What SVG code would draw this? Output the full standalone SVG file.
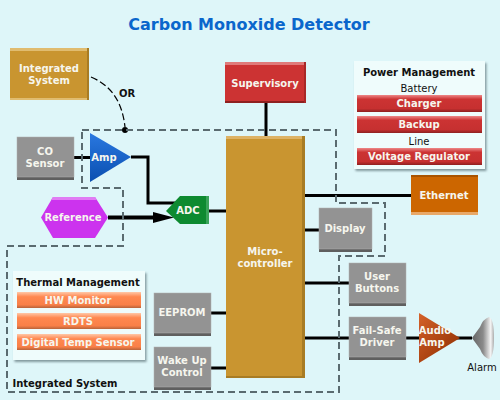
<svg xmlns="http://www.w3.org/2000/svg" width="500" height="400" viewBox="0 0 500 400">
<style>
text{font-family:"DejaVu Sans",Verdana,sans-serif;text-anchor:middle}
.w{font-size:10px;font-weight:bold;fill:#f6f6ee}
.b{font-size:10px;font-weight:bold;fill:#111}
.n{font-size:10px;fill:#111}
.c{fill:none;stroke:#000;stroke-width:3}
.d{fill:none;stroke:#5a6b70;stroke-width:2;stroke-dasharray:7 4}
.gray{fill:#939393;stroke:#b0b0b0;stroke-width:.5}
.grayb{fill:#5f5f5f}
.panel{fill:#effcfc;filter:url(#s)}
</style>
<defs>
<filter id="s" x="-10%" y="-10%" width="125%" height="125%"><feDropShadow dx="1.5" dy="2" stdDeviation="1" flood-color="#6c8288" flood-opacity=".8"/></filter>
<linearGradient id="r" x1="0" y1="0" x2="0" y2="1"><stop offset="0" stop-color="#e88"/><stop offset=".25" stop-color="#cc3333"/><stop offset=".8" stop-color="#c63030"/><stop offset="1" stop-color="#8e2020"/></linearGradient>
<linearGradient id="o" x1="0" y1="0" x2="0" y2="1"><stop offset="0" stop-color="#ffc8a8"/><stop offset=".3" stop-color="#ff8850"/><stop offset=".8" stop-color="#f98048"/><stop offset="1" stop-color="#b8633a"/></linearGradient>
<linearGradient id="au" x1="0" y1="0" x2="1" y2="1"><stop offset="0" stop-color="#d5622a"/><stop offset=".6" stop-color="#a8400f"/><stop offset="1" stop-color="#8c3208"/></linearGradient>
<linearGradient id="bl" x1="0" y1="0" x2="0" y2="1"><stop offset="0" stop-color="#2a78e0"/><stop offset="1" stop-color="#0a4fb0"/></linearGradient>
<linearGradient id="sp" x1="0" y1="0" x2="1" y2="0"><stop offset="0" stop-color="#666"/><stop offset=".5" stop-color="#8a8a8a"/><stop offset=".85" stop-color="#f4f4f4"/><stop offset="1" stop-color="#aaa"/></linearGradient>
</defs>
<rect width="500" height="400" fill="#def6f9"/>
<text x="249" y="30" style="font-size:16px;font-weight:bold;fill:#0a66cc">Carbon Monoxide Detector</text>

<g id="connectors">
<path class="c" d="M74 157.500H90M131 157H148V203H176M209 211H226M266 103V136M305 195.500H411M305 230H319M305 283H349M305 338H349M406 338H472M211 313H226M211 368H226"/>
<path d="M108 217.500H155" fill="none" stroke="#000" stroke-width="4"/>
<path d="M153 212L174 217.500L153 223Z" fill="#000"/>
<path d="M91 77C110 85 122 100 125 127" fill="none" stroke="#000" stroke-width="1.200" stroke-dasharray="7 3"/>
<circle cx="125" cy="130" r="3" fill="#000"/>
<path class="d" d="M82 130H336V203H385V256H339V392H7V246H123V188H82Z"/>
</g>
<text class="b" x="127" y="97">OR</text>

<g id="integrated-system"><rect x="10" y="48" width="79" height="52" fill="#c99530"/><rect x="10" y="48" width="79" height="3" fill="#e0bc70"/><rect x="10" y="98" width="79" height="2" fill="#e0bc70"/><rect x="87" y="48" width="2" height="52" fill="#a87c24"/>
<text class="w" x="49" y="72">Integrated</text><text class="w" x="49" y="84">System</text></g>

<g id="co-sensor"><rect x="17" y="137" width="57" height="43" class="grayb"/><rect x="17" y="137" width="57" height="40" class="gray"/>
<text class="w" x="45" y="155">CO</text><text class="w" x="45" y="167">Sensor</text></g>

<g id="amp"><path d="M90 133L131 157L90 182Z" fill="url(#bl)"/><text class="w" x="104" y="161">Amp</text></g>

<g id="adc"><path d="M166 211L180 196H209V224H180Z" fill="#0d8a30"/><path d="M206 196H209V224H206Z" fill="#3aa45a"/><text class="w" x="188" y="214">ADC</text></g>

<g id="reference"><path d="M41 217.500L53 197H95L108 217.500L95 238H53Z" fill="#cc33ee"/><path d="M53 197H95L97 200H51Z" fill="#e07cf4"/><text class="w" x="73" y="221">Reference</text></g>

<g id="supervisory"><rect x="225" y="62" width="81" height="41" fill="#cc3333"/><rect x="225" y="62" width="81" height="3" fill="#e07a7a"/><rect x="225" y="101" width="81" height="2" fill="#8e2020"/><rect x="304" y="62" width="2" height="41" fill="#a82828"/>
<text class="w" x="265" y="87">Supervisory</text></g>

<g id="microcontroller"><rect x="226" y="136" width="79" height="242" fill="#c99530"/><rect x="226" y="136" width="79" height="3" fill="#ddb366"/><rect x="302" y="136" width="3" height="242" fill="#a87c24"/><rect x="226" y="376" width="79" height="2" fill="#a87c24"/>
<text class="w" x="265" y="255">Micro-</text><text class="w" x="265" y="267">controller</text></g>

<g id="power-management"><rect class="panel" x="354" y="61" width="131" height="108"/>
<text class="b" x="419" y="76">Power Management</text><text class="n" x="419" y="92">Battery</text>
<rect x="357" y="95" width="125" height="17" fill="url(#r)"/><text class="w" x="419" y="107">Charger</text>
<rect x="357" y="116" width="125" height="17" fill="url(#r)"/><text class="w" x="419" y="128">Backup</text>
<text class="n" x="419" y="145">Line</text>
<rect x="357" y="148" width="125" height="17" fill="url(#r)"/><text class="w" x="419" y="160">Voltage Regulator</text></g>

<g id="ethernet"><rect x="411" y="175" width="67" height="40" fill="#cc6600"/><rect x="411" y="212" width="67" height="3" fill="#e8a868"/><rect x="411" y="175" width="67" height="2" fill="#a85400"/><text class="w" x="444" y="199">Ethernet</text></g>

<g id="display"><rect x="319" y="208" width="53" height="44" class="grayb"/><rect x="319" y="208" width="53" height="41" class="gray"/><text class="w" x="345" y="232">Display</text></g>
<g id="user-buttons"><rect x="349" y="263" width="57" height="43" class="grayb"/><rect x="349" y="263" width="57" height="40" class="gray"/><text class="w" x="377" y="280">User</text><text class="w" x="377" y="292">Buttons</text></g>
<g id="fail-safe-driver"><rect x="349" y="317" width="57" height="43" class="grayb"/><rect x="349" y="317" width="57" height="40" class="gray"/><text class="w" x="377" y="334">Fail-Safe</text><text class="w" x="377" y="346">Driver</text></g>

<g id="audio-amp"><path d="M419 313L460 338L419 363Z" fill="url(#au)"/><text class="w" x="435" y="334">Audio</text><text class="w" x="432" y="346">Amp</text></g>
<g id="alarm"><path d="M472 338L480 327Q483 319 489 317Q494 319 494 338Q494 357 489 359Q483 357 480 349Z" fill="url(#sp)"/><text class="n" x="482" y="371">Alarm</text></g>

<g id="thermal-management"><rect class="panel" x="13" y="271" width="132" height="89"/>
<text class="b" x="78" y="286">Thermal Management</text>
<rect x="17" y="292" width="124" height="16" fill="url(#o)"/><text class="w" x="78" y="304">HW Monitor</text>
<rect x="17" y="313" width="124" height="16" fill="url(#o)"/><text class="w" x="78" y="325">RDTS</text>
<rect x="17" y="334" width="124" height="16" fill="url(#o)"/><text class="w" x="78" y="346">Digital Temp Sensor</text></g>

<g id="eeprom"><rect x="154" y="293" width="57" height="43" class="grayb"/><rect x="154" y="293" width="57" height="40" class="gray"/><text class="w" x="182" y="316">EEPROM</text></g>
<g id="wake-up-control"><rect x="154" y="347" width="57" height="43" class="grayb"/><rect x="154" y="347" width="57" height="40" class="gray"/><text class="w" x="182" y="364">Wake Up</text><text class="w" x="182" y="376">Control</text></g>
<text class="b" x="65" y="387">Integrated System</text>
</svg>
